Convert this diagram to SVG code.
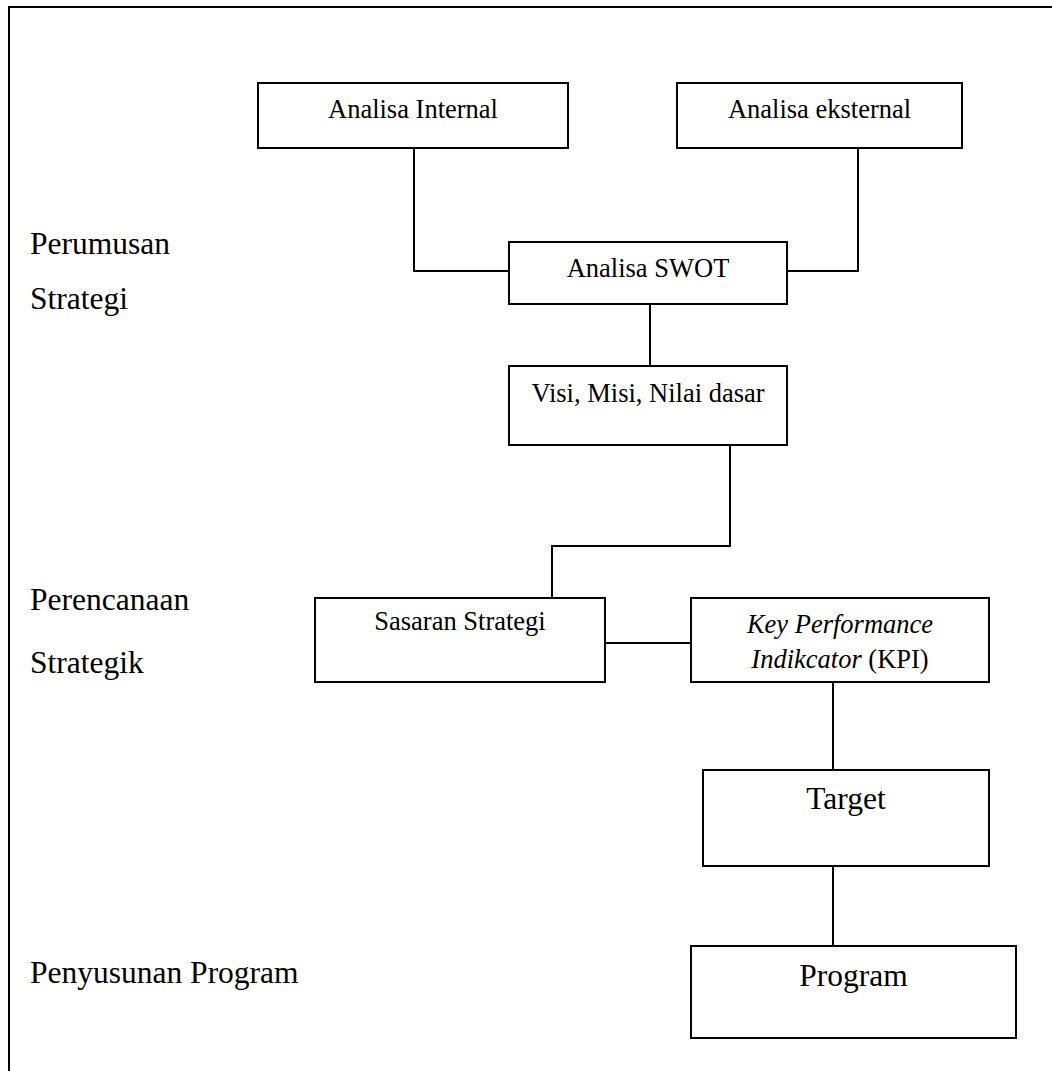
<svg xmlns="http://www.w3.org/2000/svg" width="1052" height="1071" viewBox="0 0 1052 1071">
  <style>
    .box { fill: #fff; stroke: #000; stroke-width: 2; }
    .conn { fill: none; stroke: #000; stroke-width: 2; }
    .t { font-family: "Liberation Serif", "Times New Roman", serif; fill: #000; }
    .bt { font-size: 26.5px; text-anchor: middle; }
    .bl { font-size: 31.5px; text-anchor: middle; }
    .lab { font-size: 31.5px; }
  </style>
  <rect x="0" y="0" width="1052" height="1071" fill="#fff"/>
  <path class="conn" d="M9,1075 L9,7 L1060,7"/>

  <g id="labels">
    <text class="t lab" x="30" y="254">Perumusan</text>
    <text class="t lab" x="30" y="309">Strategi</text>
    <text class="t lab" x="30" y="610">Perencanaan</text>
    <text class="t lab" x="30" y="673">Strategik</text>
    <text class="t lab" x="30" y="983">Penyusunan Program</text>
  </g>

  <g id="connectors">
    <path class="conn" d="M414,148 L414,271 L509,271"/>
    <path class="conn" d="M858,148 L858,271 L787,271"/>
    <path class="conn" d="M650,304 L650,366"/>
    <path class="conn" d="M730,445 L730,546 L552,546 L552,598"/>
    <path class="conn" d="M605,643 L691,643"/>
    <path class="conn" d="M833,682 L833,770"/>
    <path class="conn" d="M833,866 L833,946"/>
  </g>

  <g id="analisa-internal">
    <rect class="box" x="258" y="83" width="310" height="65"/>
    <text class="t bt" x="413" y="118">Analisa Internal</text>
  </g>
  <g id="analisa-eksternal">
    <rect class="box" x="677" y="83" width="285" height="65"/>
    <text class="t bt" x="819.5" y="118">Analisa eksternal</text>
  </g>
  <g id="analisa-swot">
    <rect class="box" x="509" y="242" width="278" height="62"/>
    <text class="t bt" x="648" y="277">Analisa SWOT</text>
  </g>
  <g id="visi-misi">
    <rect class="box" x="509" y="366" width="278" height="79"/>
    <text class="t bt" x="648" y="402">Visi, Misi, Nilai dasar</text>
  </g>
  <g id="sasaran-strategi">
    <rect class="box" x="315" y="598" width="290" height="84"/>
    <text class="t bt" x="460" y="630">Sasaran Strategi</text>
  </g>
  <g id="kpi">
    <rect class="box" x="691" y="598" width="298" height="84"/>
    <text class="t bt" x="840" y="633" font-style="italic">Key Performance</text>
    <text class="t bt" x="840" y="668"><tspan font-style="italic">Indikcator</tspan> (KPI)</text>
  </g>
  <g id="target">
    <rect class="box" x="703" y="770" width="286" height="96"/>
    <text class="t bl" x="846" y="809">Target</text>
  </g>
  <g id="program">
    <rect class="box" x="691" y="946" width="325" height="92"/>
    <text class="t bl" x="853.5" y="986">Program</text>
  </g>
</svg>
